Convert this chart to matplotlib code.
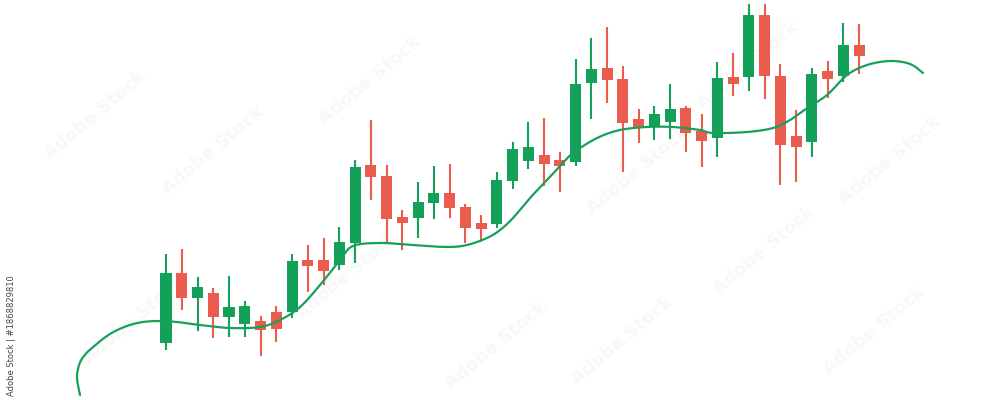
import numpy as np
import matplotlib
matplotlib.use("Agg")
import matplotlib.pyplot as plt
from matplotlib.patches import Rectangle

# ---- data (price units, candle index on x) ----
opens  = [57, 127, 102, 107, 83, 76, 79, 88, 88, 140, 140, 135, 157, 235, 224, 183, 182, 197, 207, 193,
          177, 176, 219, 239, 245, 240, 238, 317, 332, 321, 281, 273, 278, 292, 269, 262, 323, 323, 385, 324,
          264, 258, 329, 324, 355]
closes = [127, 102, 113, 83, 93, 94, 70, 71, 139, 134, 129, 158, 233, 223, 181, 177, 198, 207, 192, 172,
          171, 220, 251, 253, 236, 234, 316, 331, 320, 277, 273, 286, 291, 267, 259, 322, 316, 385, 324, 255,
          253, 326, 321, 355, 344]
highs  = [146, 151, 123, 112, 124, 99, 84, 94, 146, 155, 162, 173, 240, 280, 235, 190, 218, 234, 236, 196,
          185, 228, 258, 278, 282, 248, 341, 362, 373, 334, 291, 294, 316, 294, 286, 338, 347, 396, 396, 336,
          290, 332, 339, 377, 376]
lows   = [50, 90, 69, 62, 63, 63, 44, 58, 82, 108, 115, 130, 137, 200, 157, 150, 162, 181, 182, 157,
          158, 172, 211, 231, 214, 208, 234, 281, 297, 228, 257, 260, 261, 248, 233, 243, 304, 309, 301, 215,
          218, 243, 302, 318, 326]

trend_x = [-5.46, -5.65, -5.52, -5.21, -4.63, -3.56, -2.48, -1.46, -0.38, 0.70, 2.16, 4.06, 5.97, 7.24,
           8.51, 9.78, 11.05, 11.87, 13.59, 15.68, 17.84, 19.11, 20.38, 21.21, 22.03, 23.11, 24.19, 25.02,
           25.84, 27.37, 28.83, 30.54, 32.19, 33.90, 34.73, 36.89, 38.54, 39.62, 40.70, 41.97, 43.24, 44.51,
           45.97, 47.24, 48.06]
trend_y = [5, 22, 35, 44, 53, 66, 74, 78, 79, 78, 75, 72, 73, 80,
           93, 115, 140, 154, 157, 155, 153, 155, 162, 170, 182, 202, 220, 234,
           247, 262, 270, 273, 273, 270, 267, 268, 272, 280, 292, 305, 325, 335,
           339, 336, 327]

watermark_text = "Adobe Stock"
side_label = "Adobe Stock | #1868829810"

GREEN = "#13a058"
RED = "#ea5c4e"
LINE = "#17a05a"


def catmull_rom(xs, ys, n=12):
    p = np.column_stack([xs, ys]).astype(float)
    p = np.vstack([p[0], p, p[-1]])
    out = []
    t = np.linspace(0, 1, n, endpoint=False)
    for i in range(1, len(p) - 2):
        p0, p1, p2, p3 = p[i - 1], p[i], p[i + 1], p[i + 2]
        tt = t[:, None]
        seg = 0.5 * ((2 * p1) + (-p0 + p2) * tt + (2 * p0 - 5 * p1 + 4 * p2 - p3) * tt ** 2
                     + (-p0 + 3 * p1 - 3 * p2 + p3) * tt ** 3)
        out.append(seg)
    out.append(p[-2][None, :])
    out = np.vstack(out)
    return out[:, 0], out[:, 1]


fig = plt.figure(figsize=(10, 4), dpi=100)
ax = fig.add_axes([0, 0, 1, 1])
ax.set_xlim(-10.54, 52.95)
ax.set_ylim(0, 400)
ax.axis("off")

# very faint watermarks (white text with a faint shadow in the reference)
wm_pos = [(-4.5, 285), (3.0, 250), (11.5, 125), (-2.0, 80), (13, 320),
          (21, 55), (30, 230), (37, 335), (38, 150), (46, 240), (45, 70), (29, 60)]
for (wx, wy) in wm_pos:
    ax.text(wx, wy, watermark_text, rotation=40, fontsize=13, fontweight="bold",
            color="#f8f8f8", ha="center", va="center", zorder=0)

body_w = 0.70
for i, (o, c, h, l) in enumerate(zip(opens, closes, highs, lows)):
    col = GREEN if c >= o else RED
    ax.vlines(i, l, h, color=col, lw=1.5, zorder=2)
    ax.add_patch(Rectangle((i - body_w / 2, min(o, c)), body_w, abs(c - o),
                           facecolor=col, edgecolor="none", zorder=3))

sx, sy = catmull_rom(trend_x, trend_y)
ax.plot(sx, sy, color=LINE, lw=1.6, zorder=4, solid_capstyle="round")

fig.text(0.012, 0.01, side_label, rotation=90, fontsize=6, color="#444444",
         ha="center", va="bottom")

fig.savefig("out.png", dpi=100, facecolor="white")
